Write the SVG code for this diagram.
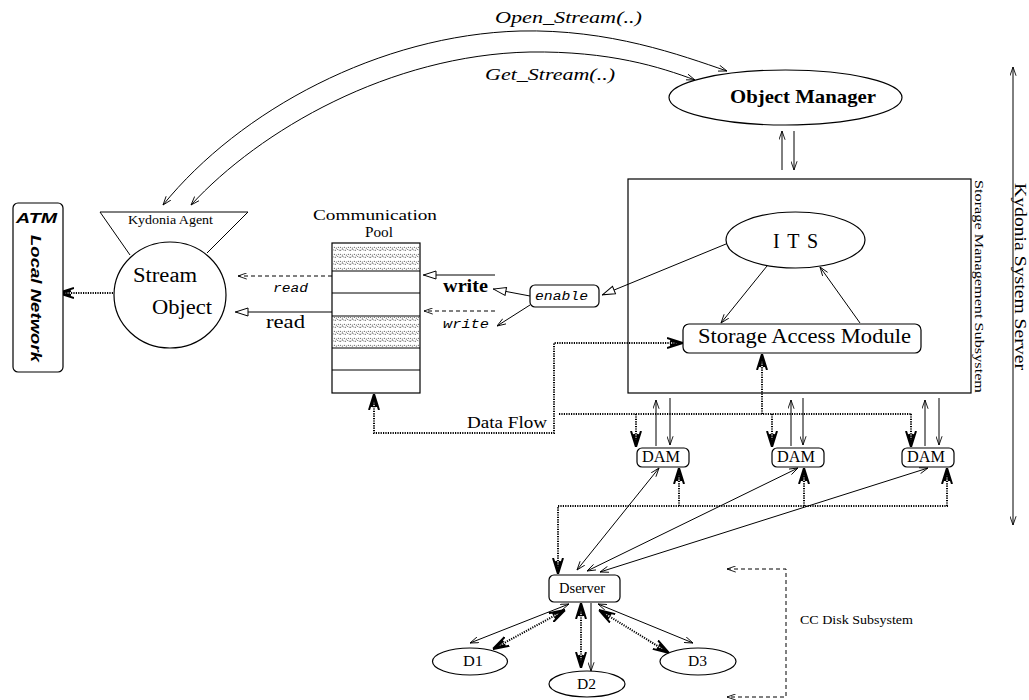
<svg xmlns="http://www.w3.org/2000/svg" width="1029" height="700" viewBox="0 0 1029 700">
<style>
.ln{fill:none;stroke:#000;stroke-width:1}
.dot{fill:none;stroke:#000;stroke-width:2;stroke-dasharray:1.2 1.2}
.dash{fill:none;stroke:#000;stroke-width:1;stroke-dasharray:4 3}
.shape{fill:#fff;stroke:#000;stroke-width:1.2}
.sf{font-family:"Liberation Serif","Times New Roman",serif;fill:#000}
.mono{font-family:"Liberation Mono","Courier New",monospace;font-style:italic;fill:#000}
.sans{font-family:"Liberation Sans",Arial,sans-serif;font-weight:bold;font-style:italic;fill:#000}
</style>
<defs>
<marker id="v" viewBox="0 0 10 8" refX="10" refY="4" markerWidth="9" markerHeight="7" orient="auto-start-reverse" markerUnits="userSpaceOnUse"><path d="M0,0.5 L10,4 L0,7.5" fill="none" stroke="#000" stroke-width="1" stroke-dasharray="none"/></marker>
<marker id="tri" viewBox="0 0 14 10" refX="14" refY="5" markerWidth="14" markerHeight="10" orient="auto-start-reverse" markerUnits="userSpaceOnUse"><path d="M1,1 L13.5,5 L1,9 Z" fill="#fff" stroke="#000" stroke-width="1" stroke-dasharray="none"/></marker>
<marker id="big" viewBox="0 0 16 12" refX="16" refY="6" markerWidth="16" markerHeight="12" orient="auto-start-reverse" markerUnits="userSpaceOnUse"><path d="M0,1 L16,6 L0,11 M3,4 L16,6 L3,8" fill="none" stroke="#000" stroke-width="2" stroke-dasharray="none"/></marker>
<pattern id="squig" width="10" height="7" patternUnits="userSpaceOnUse"><path d="M0,2 l2,1.5 l2,-1.5 l2,1.5 l2,-1.5 l2,1.5 M0,5.5 l2.5,-1 l2.5,1 l2.5,-1 l2.5,1" fill="none" stroke="#444" stroke-width="0.8" stroke-dasharray="1.5 1"/></pattern>
</defs>
<rect width="1029" height="700" fill="#fff"/>

<g id="connectors">
<path class="ln" d="M163,205 C240,110 380,35 520,31 C610,29 680,55 727,71" marker-start="url(#v)" marker-end="url(#v)"/>
<path class="ln" d="M191,205 C260,130 390,55 530,52 C610,51 660,67 695,80" marker-start="url(#v)" marker-end="url(#v)"/>
<line class="ln" x1="782" y1="170" x2="782" y2="131" marker-end="url(#v)"/>
<line class="ln" x1="794" y1="131" x2="794" y2="170" marker-end="url(#v)"/>
<line class="ln" x1="726" y1="244" x2="602" y2="295" marker-end="url(#tri)"/>
<line class="ln" x1="767" y1="266" x2="721" y2="323" marker-end="url(#v)"/>
<line class="ln" x1="860" y1="323" x2="820" y2="267" marker-end="url(#v)"/>
<line class="ln" x1="530" y1="296" x2="493" y2="289" marker-end="url(#tri)"/>
<line class="ln" x1="530" y1="305" x2="497" y2="326" marker-end="url(#v)"/>
<line class="ln" x1="495" y1="275" x2="423" y2="275" marker-end="url(#tri)"/>
<line class="dash" x1="495" y1="311" x2="424" y2="311" marker-end="url(#v)"/>
<line class="dash" x1="332" y1="276" x2="238" y2="276" marker-end="url(#v)"/>
<line class="ln" x1="332" y1="312" x2="235" y2="312" marker-end="url(#tri)"/>
<line class="dot" x1="113" y1="293" x2="58" y2="293" marker-end="url(#big)"/>
<path class="dot" d="M683,343 L554,343 L554,433 L374,433 L374,394" marker-start="url(#big)" marker-end="url(#big)"/>
<path class="dot" d="M559,414 L912,414"/>
<path class="dot" d="M762,414 L762,354" marker-end="url(#big)"/>
<path class="dot" d="M636,414 L636,447" marker-end="url(#big)"/>
<path class="dot" d="M772,414 L772,447" marker-end="url(#big)"/>
<path class="dot" d="M911,414 L911,447" marker-end="url(#big)"/>
<path class="dot" d="M948,506 L558,506 L558,574" marker-end="url(#big)"/>
<path class="dot" d="M679,506 L679,468" marker-end="url(#big)"/>
<path class="dot" d="M804,506 L804,468" marker-end="url(#big)"/>
<path class="dot" d="M947,506 L947,468" marker-end="url(#big)"/>
<line class="ln" x1="656" y1="446" x2="656" y2="400" marker-end="url(#v)"/>
<line class="ln" x1="670" y1="398" x2="670" y2="445" marker-end="url(#v)"/>
<line class="ln" x1="791" y1="446" x2="791" y2="400" marker-end="url(#v)"/>
<line class="ln" x1="803" y1="398" x2="803" y2="445" marker-end="url(#v)"/>
<line class="ln" x1="925" y1="446" x2="925" y2="400" marker-end="url(#v)"/>
<line class="ln" x1="939" y1="398" x2="939" y2="445" marker-end="url(#v)"/>
<line class="ln" x1="659" y1="468" x2="577" y2="570" marker-start="url(#v)" marker-end="url(#v)"/>
<line class="ln" x1="798" y1="468" x2="587" y2="571" marker-start="url(#v)" marker-end="url(#v)"/>
<line class="ln" x1="928" y1="468" x2="600" y2="572" marker-start="url(#v)" marker-end="url(#v)"/>
<line class="ln" x1="569" y1="604" x2="470" y2="643" marker-start="url(#v)" marker-end="url(#v)"/>
<line class="dot" x1="565" y1="610" x2="493" y2="649" marker-start="url(#big)" marker-end="url(#big)"/>
<line class="dot" x1="581" y1="603" x2="581" y2="668" marker-start="url(#big)" marker-end="url(#big)"/>
<line class="ln" x1="591" y1="603" x2="591" y2="671" marker-end="url(#v)"/>
<line class="ln" x1="598" y1="604" x2="693" y2="643" marker-start="url(#v)" marker-end="url(#v)"/>
<line class="dot" x1="599" y1="610" x2="669" y2="653" marker-start="url(#big)" marker-end="url(#big)"/>
<line class="ln" x1="1013" y1="67" x2="1013" y2="525" marker-start="url(#v)" marker-end="url(#v)"/>
<path class="dash" d="M727,569 L786,569 L786,697 L727,697" marker-start="url(#v)" marker-end="url(#v)"/>
</g>

<g id="labels">
<text class="sf" x="495" y="23" font-size="17" font-style="italic" textLength="147" lengthAdjust="spacingAndGlyphs">Open_Stream(..)</text>
<text class="sf" x="485" y="80" font-size="17" font-style="italic" textLength="130" lengthAdjust="spacingAndGlyphs">Get_Stream(..)</text>
<text class="sf" x="467" y="428" font-size="16" textLength="80" lengthAdjust="spacingAndGlyphs">Data Flow</text>
<text class="sf" x="443" y="292" font-size="19" font-weight="bold" textLength="45" lengthAdjust="spacingAndGlyphs">write</text>
<text class="mono" x="443" y="328" font-size="12" textLength="46" lengthAdjust="spacingAndGlyphs">write</text>
<text class="mono" x="273" y="292" font-size="12" textLength="35" lengthAdjust="spacingAndGlyphs">read</text>
<text class="sf" x="266" y="328" font-size="19" textLength="39" lengthAdjust="spacingAndGlyphs">read</text>
<text class="sf" x="800" y="624" font-size="13" textLength="113" lengthAdjust="spacingAndGlyphs">CC Disk Subsystem</text>
<text class="sf" font-size="17" transform="translate(1015,183) rotate(90)" textLength="187" lengthAdjust="spacingAndGlyphs">Kydonia System Server</text>
</g>

<g id="atm">
<rect class="shape" x="13" y="203" width="50" height="169" rx="5"/>
<text class="sans" x="16" y="223" font-size="15" textLength="41" lengthAdjust="spacingAndGlyphs">ATM</text>
<text class="sans" font-size="15" transform="translate(31,235) rotate(90)" textLength="127" lengthAdjust="spacingAndGlyphs">Local Network</text>
</g>

<g id="kydonia-agent">
<path class="ln" d="M130,255 L100,212 L248,212 L207,253"/>
<text class="sf" x="128" y="224" font-size="12" textLength="85" lengthAdjust="spacingAndGlyphs">Kydonia Agent</text>
</g>

<g id="stream-object">
<ellipse class="shape" cx="170" cy="295" rx="56" ry="53"/>
<text class="sf" x="133" y="282" font-size="20" textLength="64" lengthAdjust="spacingAndGlyphs">Stream</text>
<text class="sf" x="152" y="314" font-size="20" textLength="60" lengthAdjust="spacingAndGlyphs">Object</text>
</g>

<g id="communication-pool">
<text class="sf" x="313" y="220" font-size="15" textLength="124" lengthAdjust="spacingAndGlyphs">Communication</text>
<text class="sf" x="365" y="237" font-size="15" textLength="28" lengthAdjust="spacingAndGlyphs">Pool</text>
<rect class="shape" x="332" y="243" width="88" height="150"/>
<rect x="333" y="244" width="86" height="26" fill="url(#squig)"/>
<rect x="333" y="317" width="86" height="30" fill="url(#squig)"/>
<path class="ln" d="M332,271 H420 M332,293 H420 M332,316 H420 M332,348 H420 M332,370 H420"/>
</g>

<g id="enable">
<rect class="shape" x="530" y="285" width="69" height="22" rx="5"/>
<text class="mono" x="535" y="300" font-size="12" textLength="53" lengthAdjust="spacingAndGlyphs">enable</text>
</g>

<g id="object-manager">
<ellipse class="shape" cx="785.5" cy="97.5" rx="116.5" ry="27.5"/>
<text class="sf" x="730" y="103" font-size="19" font-weight="bold" textLength="146" lengthAdjust="spacingAndGlyphs">Object Manager</text>
</g>

<g id="storage-management-subsystem">
<rect x="628" y="179" width="343" height="214" fill="none" stroke="#000" stroke-width="1.2"/>
<text class="sf" font-size="12" transform="translate(975,180) rotate(90)" textLength="213" lengthAdjust="spacingAndGlyphs">Storage Management Subsystem</text>
</g>

<g id="its">
<ellipse class="shape" cx="795.5" cy="240" rx="69.5" ry="28"/>
<text class="sf" x="773" y="248" font-size="20" textLength="45" lengthAdjust="spacing">I T S</text>
</g>

<g id="storage-access-module">
<rect class="shape" x="683" y="324" width="238" height="29" rx="6"/>
<text class="sf" x="698" y="343" font-size="20" textLength="213" lengthAdjust="spacingAndGlyphs">Storage Access Module</text>
</g>

<g id="dam1">
<rect class="shape" x="637" y="448" width="52" height="19" rx="5"/>
<text class="sf" x="642" y="462" font-size="16" textLength="38" lengthAdjust="spacingAndGlyphs">DAM</text>
</g>
<g id="dam2">
<rect class="shape" x="772" y="448" width="52" height="19" rx="5"/>
<text class="sf" x="777" y="462" font-size="16" textLength="38" lengthAdjust="spacingAndGlyphs">DAM</text>
</g>
<g id="dam3">
<rect class="shape" x="902" y="448" width="52" height="19" rx="5"/>
<text class="sf" x="907" y="462" font-size="16" textLength="38" lengthAdjust="spacingAndGlyphs">DAM</text>
</g>

<g id="dserver">
<rect class="shape" x="549" y="575" width="71" height="27" rx="5"/>
<text class="sf" x="559" y="593" font-size="14" textLength="46" lengthAdjust="spacingAndGlyphs">Dserver</text>
</g>

<g id="d1">
<ellipse class="shape" cx="470" cy="661.5" rx="37.5" ry="13.5"/>
<text class="sf" x="463" y="666" font-size="14" textLength="20" lengthAdjust="spacingAndGlyphs">D1</text>
</g>
<g id="d2">
<ellipse class="shape" cx="587" cy="684" rx="38" ry="13"/>
<text class="sf" x="577" y="689" font-size="14" textLength="19" lengthAdjust="spacingAndGlyphs">D2</text>
</g>
<g id="d3">
<ellipse class="shape" cx="698" cy="661.5" rx="38" ry="13.5"/>
<text class="sf" x="688" y="666" font-size="14" textLength="19" lengthAdjust="spacingAndGlyphs">D3</text>
</g>
</svg>
